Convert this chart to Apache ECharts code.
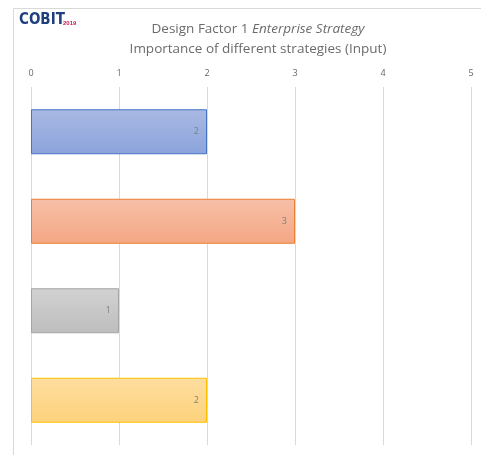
<!DOCTYPE html>
<html>
<head>
<meta charset="utf-8">
<script src="https://cdn.jsdelivr.net/npm/echarts@6/dist/echarts.min.js"></script>
<style>
  html, body { margin: 0; padding: 0; background: #ffffff; }
  #chart { width: 481px; height: 455px; }
</style>
</head>
<body>
<div id="chart"></div>
<script>
// Design Factor 1: importance of each enterprise strategy (input values)
const strategies = ['Growth/Acquisition', 'Innovation/Differentiation', 'Cost Leadership', 'Client Service/Stability'];
const importance = [2, 3, 1, 2];
const axisTicks = [0, 1, 2, 3, 4, 5];

// fill gradient (top, bottom) and outline for each strategy bar
const fillTop = ['#aab9e3', '#f6c0a8', '#d2d2d2', '#fedd9f'];
const fillBottom = ['#8ba4dc', '#f4a683', '#bdbdbd', '#fdd27b'];
const outline = ['#4472c4', '#ed7d31', '#a5a5a5', '#ffc000'];

const chart = echarts.init(document.getElementById('chart'), null, { renderer: 'canvas' });

const barData = importance.map((v, i) => ({
  value: v,
  itemStyle: {
    color: new echarts.graphic.LinearGradient(0, 0, 0, 1, [
      { offset: 0, color: fillTop[i] },
      { offset: 1, color: fillBottom[i] }
    ]),
    borderColor: outline[i],
    borderWidth: 1
  }
}));

chart.setOption({
  animation: false,
  backgroundColor: '#ffffff',
  title: {
    left: 253,
    top: 14,
    textAlign: 'center',
    text: '{n|Design Factor 1 }{i|Enterprise Strategy}\n{n|Importance of different strategies (Input)}',
    textStyle: {
      fontWeight: 'normal',
      rich: {
        n: { fontFamily: 'Open Sans', fontSize: 13.5, fontWeight: 'normal', color: '#6b6b6b', lineHeight: 20 },
        i: { fontFamily: 'Open Sans', fontSize: 13.5, fontWeight: 'normal', fontStyle: 'italic', color: '#6b6b6b', lineHeight: 20 }
      }
    }
  },
  graphic: [
    {
      type: 'polyline',
      shape: { points: [[13.5, 455], [13.5, 8.5], [481, 8.5]] },
      style: { stroke: '#d9d9d9', lineWidth: 1, fill: null },
      silent: true
    },
    {
      type: 'text',
      x: 19,
      y: 28,
      style: {
        text: 'COBIT',
        font: 'bold 15px "DejaVu Sans Condensed", "DejaVu Sans", sans-serif',
        fill: '#1f3f7f',
        verticalAlign: 'bottom'
      }
    },
    {
      type: 'text',
      x: 63,
      y: 26,
      style: {
        text: '2019',
        font: 'bold 6px "Liberation Sans", sans-serif',
        fill: '#c2185b',
        verticalAlign: 'bottom'
      }
    }
  ],
  grid: { left: 31, right: 10, top: 87, bottom: 10, containLabel: false },
  xAxis: {
    type: 'value',
    position: 'top',
    min: axisTicks[0],
    max: axisTicks[axisTicks.length - 1],
    interval: 1,
    axisLine: { show: false },
    axisTick: { show: false },
    axisLabel: { color: '#666666', fontSize: 9, fontFamily: 'Open Sans', margin: 9 },
    splitLine: { show: true, lineStyle: { color: '#d9d9d9', width: 1 } }
  },
  yAxis: {
    type: 'category',
    inverse: true,
    data: strategies,
    axisLine: { show: false },
    axisTick: { show: false },
    axisLabel: { show: false },
    splitLine: { show: false }
  },
  series: [{
    type: 'bar',
    data: barData,
    barWidth: 45,
    label: {
      show: true,
      position: 'insideRight',
      distance: 8,
      color: '#7f7f7f',
      fontSize: 9,
      fontFamily: 'Open Sans'
    }
  }]
});
</script>
</body>
</html>
